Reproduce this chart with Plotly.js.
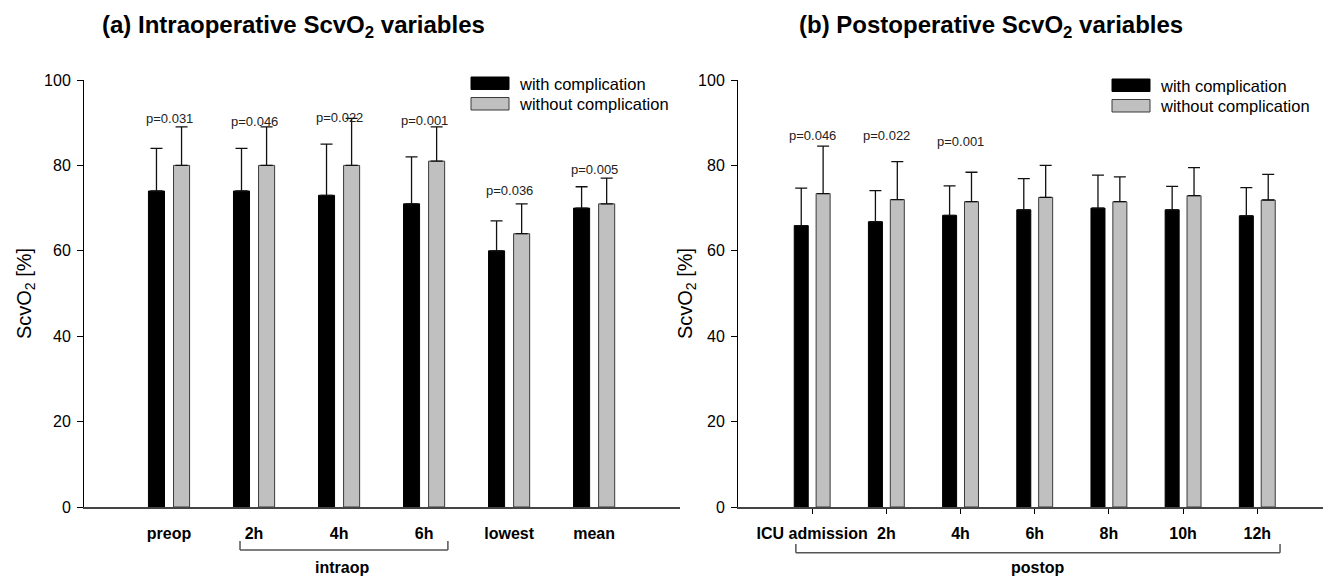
<!DOCTYPE html>
<html>
<head>
<meta charset="utf-8">
<script src="https://cdn.plot.ly/plotly-3.0.1.min.js"></script>
<style>html,body{margin:0;padding:0;background:#fff;}#chart{width:1323px;height:577px;}</style>
</head>
<body>
<div id="chart"></div>
<script>
// ---- data ----
const seriesNames = ['with complication', 'without complication'];

const categoriesA = ['preop', '2h', '4h', '6h', 'lowest', 'mean'];
const withA = [74, 74, 73, 71, 60, 70];
const withSdA = [10, 10, 12, 11, 7, 5];
const withoutA = [80, 80, 80, 81, 64, 71];
const withoutSdA = [9, 9, 11, 8, 7, 6];
const pTextA = ['p=0.031', 'p=0.046', 'p=0.022', 'p=0.001', 'p=0.036', 'p=0.005'];
const pLevelA = [91, 90.2, 91.3, 90.6, 74.1, 79];

const categoriesB = ['ICU admission', '2h', '4h', '6h', '8h', '10h', '12h'];
const withB = [65.9, 66.8, 68.3, 69.6, 70.0, 69.6, 68.2];
const withSdB = [8.8, 7.3, 6.9, 7.3, 7.7, 5.5, 6.6];
const withoutB = [73.4, 72.0, 71.5, 72.5, 71.5, 72.9, 71.9];
const withoutSdB = [11.1, 8.9, 6.9, 7.5, 5.8, 6.6, 6.0];
const pTextB = ['p=0.046', 'p=0.022', 'p=0.001'];
const pLevelB = [87.1, 87.1, 85.7];

const yTicks = [0, 20, 40, 60, 80, 100];
const groupLabelA = 'intraop';
const groupLabelB = 'postop';
const titleA = '(a) Intraoperative ScvO<sub>2</sub> variables';
const titleB = '(b) Postoperative ScvO<sub>2</sub> variables';
const yTitle = 'ScvO<sub>2</sub> [%]';

// ---- styling ----
const FONT = 'Liberation Sans, Arial, Helvetica, sans-serif';
const W = 1323, H = 577, MT = 80, MB = 70;
const plotH = H - MT - MB;
const px = v => v / W;                       // pixel x -> paper
const py = v => (H - MB - v) / plotH;        // pixel y -> paper

function errSpec(sd) {
  return {type: 'data', symmetric: false, array: sd, arrayminus: sd.map(() => 0),
          color: '#111', thickness: 1.3, width: 6};
}
const blackMarker = {color: '#000000', line: {color: '#000000', width: 1}};
const greyMarker = {color: '#c0c0c0', line: {color: '#3a3a3a', width: 1}};

const traces = [
  {type: 'bar', name: seriesNames[0], x: categoriesA, y: withA, xaxis: 'x', yaxis: 'y',
   marker: blackMarker, error_y: errSpec(withSdA), showlegend: false, hoverinfo: 'y'},
  {type: 'bar', name: seriesNames[1], x: categoriesA, y: withoutA, xaxis: 'x', yaxis: 'y',
   marker: greyMarker, error_y: errSpec(withoutSdA), showlegend: false, hoverinfo: 'y'},
  {type: 'bar', name: seriesNames[0], x: categoriesB, y: withB, xaxis: 'x2', yaxis: 'y2',
   marker: blackMarker, error_y: errSpec(withSdB), showlegend: false, hoverinfo: 'y'},
  {type: 'bar', name: seriesNames[1], x: categoriesB, y: withoutB, xaxis: 'x2', yaxis: 'y2',
   marker: greyMarker, error_y: errSpec(withoutSdB), showlegend: false, hoverinfo: 'y'}
];

const annotations = [];
const shapes = [];

// p-value labels
pTextA.forEach((t, i) => annotations.push({xref: 'x', yref: 'y', x: i, y: pLevelA[i], text: t,
  showarrow: false, xanchor: 'center', yanchor: 'middle', font: {family: FONT, size: 13, color: '#222'}}));
pTextB.forEach((t, i) => annotations.push({xref: 'x2', yref: 'y2', x: i, y: pLevelB[i], text: t,
  showarrow: false, xanchor: 'center', yanchor: 'middle', font: {family: FONT, size: 13, color: '#222'}}));

// panel titles
annotations.push({xref: 'paper', yref: 'paper', x: px(100), y: py(26), xanchor: 'left', yanchor: 'middle',
  text: '<b>' + titleA + '</b>', showarrow: false, font: {family: FONT, size: 24, color: '#000'}});
annotations.push({xref: 'paper', yref: 'paper', x: px(797), y: py(26), xanchor: 'left', yanchor: 'middle',
  text: '<b>' + titleB + '</b>', showarrow: false, font: {family: FONT, size: 24, color: '#000'}});

// legends (boxes + labels)
function addLegend(x0, yTop) {
  const colors = [blackMarker, greyMarker];
  seriesNames.forEach((n, k) => {
    const top = yTop + k * 20.5;
    shapes.push({type: 'rect', xref: 'paper', yref: 'paper', x0: px(x0), x1: px(x0 + 38),
      y0: py(top + 12.5), y1: py(top), fillcolor: colors[k].color,
      line: {color: colors[k].line.color, width: 1}});
    annotations.push({xref: 'paper', yref: 'paper', x: px(x0 + 46), y: py(top + 6.5),
      xanchor: 'left', yanchor: 'middle', text: n, showarrow: false,
      font: {family: FONT, size: 16.5, color: '#000'}});
  });
}
addLegend(471, 77);
addLegend(1112, 79);

// group brackets
function bracket(xref, a, b, yLine, yEnd, label, xLabel, yLabel) {
  const ln = {color: '#555', width: 1.5};
  shapes.push({type: 'line', xref: xref, yref: 'paper', x0: a, x1: b, y0: py(yLine), y1: py(yLine), line: ln});
  shapes.push({type: 'line', xref: xref, yref: 'paper', x0: a, x1: a, y0: py(yLine), y1: py(yEnd), line: ln});
  shapes.push({type: 'line', xref: xref, yref: 'paper', x0: b, x1: b, y0: py(yLine), y1: py(yEnd), line: ln});
  annotations.push({xref: xref, yref: 'paper', x: xLabel, y: py(yLabel), text: '<b>' + label + '</b>',
    showarrow: false, xanchor: 'center', yanchor: 'middle', font: {family: FONT, size: 16, color: '#000'}});
}
bracket('x', 0.835, 3.28, 550, 541, groupLabelA, 2.03, 567.5);
bracket('x2', -0.22, 6.307, 552.7, 544, groupLabelB, 3.05, 567.5);

function xAxis(domain, range, tickColor) {
  return {domain: domain, range: range, type: 'category', showgrid: false, zeroline: false,
    showline: true, linecolor: '#444', linewidth: 2,
    ticks: 'outside', ticklen: 5, tickwidth: 1, tickcolor: tickColor,
    ticklabelstandoff: 6,
    tickfont: {family: FONT, size: 16, color: '#000', weight: 'bold'}, fixedrange: true};
}
function yAxis(anchor, standoff) {
  return {anchor: anchor, domain: [0, 1], range: [0, 100], tickvals: yTicks, ticktext: yTicks.map(String),
    showgrid: false, zeroline: false, showline: true, linecolor: '#000', linewidth: 1,
    ticks: 'outside', ticklen: 6, tickwidth: 1, tickcolor: '#000', ticklabelstandoff: 3,
    tickfont: {family: FONT, size: 16, color: '#000'},
    title: {text: yTitle, standoff: standoff, font: {family: FONT, size: 20, color: '#000'}},
    fixedrange: true};
}

const layout = {
  width: W, height: H,
  margin: {l: 0, r: 0, t: MT, b: MB, pad: 0},
  paper_bgcolor: '#ffffff', plot_bgcolor: '#ffffff',
  font: {family: FONT, color: '#000'},
  barmode: 'group', bargap: 0.41, bargroupgap: 0.36,
  xaxis: Object.assign(xAxis([px(84), px(680)], [-1, 6.01], 'rgba(0,0,0,0)'), {anchor: 'y'}),
  yaxis: yAxis('x', 7),
  xaxis2: Object.assign(xAxis([px(738), 1], [-1, 6.886], '#000'), {anchor: 'y2'}),
  yaxis2: yAxis('x2', 0),
  annotations: annotations,
  shapes: shapes,
  showlegend: false
};

Plotly.newPlot('chart', traces, layout, {displayModeBar: false, staticPlot: true});
</script>
</body>
</html>
